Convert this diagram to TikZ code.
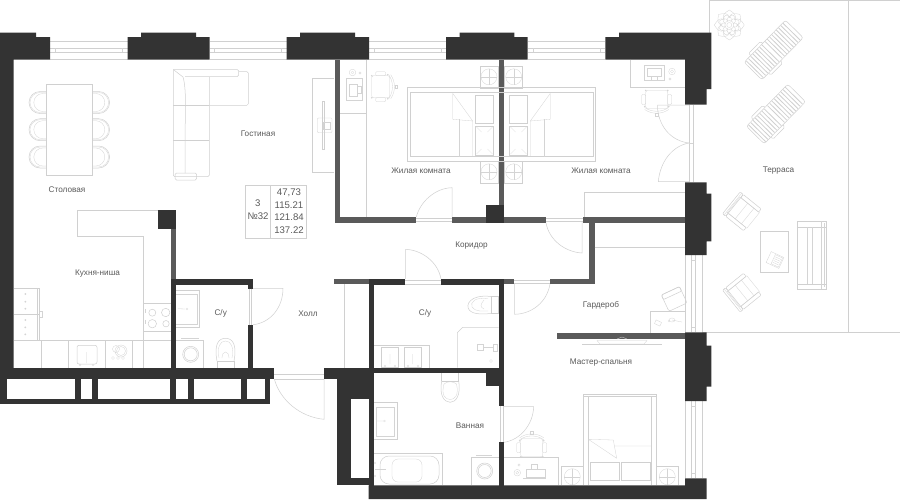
\documentclass[tikz,border=0pt]{standalone}
\usepackage{fontspec}
\setmainfont{Liberation Sans}
\usetikzlibrary{calc}
\definecolor{wd}{HTML}{333333}
\definecolor{wg}{HTML}{5A5A5A}
\definecolor{ln}{HTML}{D0D0D0}
\definecolor{lf}{HTML}{D4D4D4}
\definecolor{tx}{HTML}{5A5A5A}
\tikzset{
 wall/.style={fill=wd,draw=none},
 pwall/.style={fill=wg,draw=none},
 hole/.style={fill=white,draw=none},
 fur/.style={draw=ln,line width=.5pt,fill=none},
 fine/.style={draw=lf,line width=.3pt,fill=none},
 room/.style={font=\fontsize{8.2}{9}\selectfont,text=tx,inner sep=0pt},
 info/.style={font=\fontsize{9.6}{10}\selectfont,text=tx,inner sep=0pt},
 nstand/.pic={\draw[fur] (-9,-11) rectangle (9,11);\draw[fine] (0,0) circle (8);\draw[fine] (-8,0)--(8,0) (0,-8)--(0,8);},
 dchair/.pic={\draw[fine,rounded corners=2pt] (-10,-11) rectangle (8,11);
  \draw[fine,rounded corners=1pt] (-6,-15) rectangle (4,-11) (-6,11) rectangle (4,15);
  \draw[fine] (7,-12) .. controls (12,-5) and (12,5) .. (7,12);
  \draw[fine] (9,-12) .. controls (14,-5) and (14,5) .. (9,12);
  \draw[fine] (13,-1.3) rectangle (15.5,1.3);
  \fill[lf] (-10,-11) circle (.9) (-10,11) circle (.9) (6,-12) circle (.9) (6,12) circle (.9);},
 lounger/.pic={
  \foreach \s in {-27,-23.8,...,-4}{\draw[draw=ln,line width=.8pt] (\s,-12)--(\s,12);}
  \foreach \s in {0,3.2,...,27}{\draw[draw=ln,line width=.8pt] (\s,-12)--(\s,12);}
  \draw[fur,rounded corners=2.5pt] (-29.5,-12.5) rectangle (29.5,12.5);
  \draw[fur,rounded corners=1.5pt] (-20,12.5) -- (-20,15.5) -- (-3,15.5) -- (-3,12.5) (-20,-12.5) -- (-20,-15.5) -- (-3,-15.5) -- (-3,-12.5);},
 achair/.pic={\draw[fine] (-12,-10) rectangle (13,10);
  \draw[fur,rounded corners=1pt] (-15,-14) rectangle (-11,14);
  \draw[fur,rounded corners=1pt] (-11,-14) rectangle (12,-10) (-11,10) rectangle (12,14);
  \draw[fine] (-2,-10)--(-2,10) (6,-10)--(6,10) (-13,-14)--(-13,14);},
 dinechair/.pic={\draw[fur] (0,-11) -- (-6.3,-11) arc (270:90:11) -- (0,11);
  \draw[fine] (0,-10) -- (-6.3,-10) arc (270:90:10) -- (0,10);
  \draw[fine] (0,-9) -- (-3.5,-9) arc (270:90:9) -- (0,9);},
}
\newcommand{\winH}[2]{\draw[fur] (#1,41.3)--(#2,41.3) (#1,48.3)--(#2,48.3) (#1,52.3)--(#2,52.3) (#1,59.3)--(#2,59.3);
 \draw[fine] ($(#1,48.3)+(5,0)$)--++(0,4) ($(#2,48.3)+(-5,0)$)--++(0,4);}
\newcommand{\winV}[2]{\draw[fur] (691.7,#1)--(691.7,#2) (695.7,#1)--(695.7,#2) (702.3,#1)--(702.3,#2) (685.3,#1)--(685.3,#2);
 \draw[fine] (691.7,#1+5)--++(4,0) (691.7,#2-5)--++(4,0);}
\newcommand{\pillow}[4]{\draw[fur] (#1,#2) .. controls ($(#1,#2)!.5!(#3,#2)+(0,.9)$) .. (#3,#2) .. controls ($(#3,#2)!.5!(#3,#4)+(-.9,0)$) .. (#3,#4) .. controls ($(#1,#4)!.5!(#3,#4)+(0,-.9)$) .. (#1,#4) .. controls ($(#1,#2)!.5!(#1,#4)+(.9,0)$) .. (#1,#2);}
\newcommand{\bedtwin}[1]{\begin{scope}[shift={(501.5,0)},xscale=#1]
 \draw[fur] (94.2,87.7)--(-2.8,87.7) (-2.8,161)--(94.2,161)--(94.2,87.7);
 \draw[fur] (91.5,92.3)--(-2.8,92.3) (-2.8,156.7)--(91.5,156.7)--(91.5,92.3);
 \draw[fine] (42.2,119.3)--(42.2,156.7);
 \draw[fine] (48.8,93.3)--(48.8,119.3)--(28.8,121)--(28.8,156.7) (48.8,93.3)--(28.8,121);
 \pillow{26.2}{95}{8.2}{123.3}
 \pillow{26.2}{126}{8.2}{155}
 \draw[fine] (25,127)--(20,132) (9,127)--(14,132) (25,154)--(20,149) (9,154)--(14,149);
 \end{scope}}
\begin{document}
\begin{tikzpicture}[x=1pt,y=-1pt]
\useasboundingbox (0,0) rectangle (900,499);
\fill[white] (0,0) rectangle (900,499);
% terrace
\draw[fur] (709.3,0)--(900,0) (709.3,0)--(709.3,32.5) (702.3,332.3)--(900,332.3) (848.3,0)--(848.3,332.3);
% windows
\winH{50}{127.5}\winH{209.5}{286.5}\winH{369}{446}\winH{527.7}{605.3}
\winV{255}{332.3}\winV{401}{478.3}
% partition walls gray
\fill[pwall] (334.7,59.5) rectangle (340.3,222.7);
\fill[pwall] (334.7,217) rectangle (416,222.7);
\fill[pwall] (452.3,217) rectangle (546,222.7);
\fill[pwall] (582.7,217) rectangle (685,222.7);
\fill[pwall] (498.7,59.5) rectangle (504.3,205);
\fill[pwall] (588.7,222) rectangle (594.7,284.3);
\fill[pwall] (550,279.3) rectangle (594.7,284.3);
\fill[pwall] (504.3,279.3) rectangle (514.3,284.3);
\fill[pwall] (334.3,279.3) rectangle (369,284.3);
\fill[pwall] (171,228.7) rectangle (176.3,279.3);
\fill[pwall] (557,332.7) rectangle (685,338.7);
% main dark walls
\fill[wall] (0,32.5)--(36,32.5)--(36,37)--(50,37)--(50,59.5)--(13.5,59.5)--(13.5,368)--(0,368)--cycle;
\fill[wall] (127.5,37)--(141,37)--(141,32.5)--(196,32.5)--(196,37)--(209.5,37)--(209.5,59.5)--(127.5,59.5)--cycle;
\fill[wall] (286.5,37)--(300,37)--(300,32.5)--(355,32.5)--(355,37)--(369,37)--(369,59.5)--(286.5,59.5)--cycle;
\fill[wall] (446,37)--(459.7,37)--(459.7,32.5)--(514.3,32.5)--(514.3,37)--(527.7,37)--(527.7,59.5)--(446,59.5)--cycle;
\fill[wall] (605.3,37)--(619,37)--(619,32.5)--(711.3,32.5)--(711.3,89)--(706.7,89)--(706.7,104.7)--(685,104.7)--(685,59.5)--(605.3,59.5)--cycle;
\fill[wall] (685,182.3)--(706.7,182.3)--(706.7,193.7)--(711.3,193.7)--(711.3,241.3)--(706.7,241.3)--(706.7,255)--(685,255)--cycle;
\fill[wall] (685,332.3)--(706.7,332.3)--(706.7,345.7)--(711.3,345.7)--(711.3,386.7)--(706.7,386.7)--(706.7,401)--(685,401)--cycle;
\fill[wall] (486,205) rectangle (504.3,223.3);
\fill[wall] (158,210.3) rectangle (176.3,228.7);
% bottom-left band
\fill[wall] (0,368) rectangle (274,379.3);
\fill[wall] (0,379) rectangle (270,404.3);
\fill[hole] (7,379.3) rectangle (75,398.7);
\fill[hole] (80.7,379.3) rectangle (92.3,398.7);
\fill[hole] (97.7,379.3) rectangle (170.3,398.7);
\fill[hole] (176,379.3) rectangle (188,398.7);
\fill[hole] (193.7,379.3) rectangle (241,398.7);
\fill[hole] (246.7,379.3) rectangle (265,398.7);
% WC 1
\fill[wall] (171,279.3) rectangle (176.3,368);
\fill[wall] (171,279.3) rectangle (253,285);
\fill[wall] (247.7,279.3) rectangle (253,288.5);
\fill[wall] (247.7,324.7) rectangle (253,368);
% WC 2 + bath
\fill[wall] (324.3,367.7) rectangle (504.3,373.3);
\fill[wall] (324.3,373) rectangle (374.3,379);
\fill[wall] (369,279.3) rectangle (405,285);
\fill[wall] (440.7,279.3) rectangle (504.3,285);
\fill[wall] (369,279.3) rectangle (374.3,373);
\fill[wall] (498.7,279.3) rectangle (504.3,406);
\fill[wall] (498.7,442.3) rectangle (504.3,486);
\fill[wall] (486,373) rectangle (504.3,385.7);
\fill[wall] (336.7,379) rectangle (374.3,485.3);
\fill[hole] (350.7,399) rectangle (368.7,478.3);
\fill[wall] (368.7,485.3)--(685,485.3)--(685,478.3)--(706.7,478.3)--(706.7,499)--(368.7,499)--cycle;
\fill[wall] (368.7,478.3) rectangle (374.3,486);
% ---- doors
\draw[fur] (249.5,288.5)--(249.5,324.7) (251.5,288.5)--(251.5,324.7);
\draw[fur] (253,288.3)--(283,288.3) .. controls (283,308) and (270,323) .. (253,324.7);
\draw[fur] (274.3,374)--(324.3,374) (274.3,379)--(324.3,379);
\draw[fur] (324,379)--(324,419.3) .. controls (300,417) and (280,400) .. (274.3,379);
\draw[fur] (416,218)--(452,218) (416,221.7)--(452,221.7);
\draw[fur] (452,217)--(452,187.7) .. controls (435,188) and (420,202) .. (416.3,217);
\draw[fur] (546,218)--(582.7,218) (546,221.7)--(582.7,221.7);
\draw[fur] (582,222)--(582,253) .. controls (565,252) and (549,240) .. (546,222.7);
\draw[fur] (405,280.5)--(441,280.5) (405,284)--(441,284);
\draw[fur] (405.5,279)--(405.5,249.3) .. controls (422,250) and (438,262) .. (441,279);
\draw[fur] (514.3,280.5)--(550,280.5) (514.3,283.5)--(550,283.5);
\draw[fur] (514.5,284)--(514.5,314.3) .. controls (532,314) and (547,302) .. (550,284);
\draw[fur] (500,406)--(500,442.3) (503,406)--(503,442.3);
\draw[fur] (504,406.7)--(533.7,406.7) .. controls (533,425) and (520,440) .. (504,442.3);
\draw[fur] (689.3,105)--(689.3,182) (693.3,105)--(693.3,182);
\draw[fur] (689,105)--(657.7,105)--(657.7,110) .. controls (660,128) and (672,141) .. (689,143);
\draw[fur] (689,181.7)--(658.3,181.7) .. controls (660,162) and (672,146) .. (689,143);
\draw[fine] (689,143) -- (693.3,143);
% ---- living room
\draw[fur] (46.3,84) rectangle (92.3,175.7);
\foreach \yy in {102.5,129.7,157}{
 \pic at (46.3,\yy) {dinechair};
 \pic[xscale=-1] at (92.3,\yy) {dinechair};
}
\draw[fur,rounded corners=1.5pt] (173.3,69.5)--(238.7,69.5)--(238.7,76.5)--(185,76.5) (209.3,76.5)--(209.3,105) (238.7,71.5)--(248.3,71.5)--(248.3,105.3)--(209.3,105.3);
\draw[fur,rounded corners=1.5pt] (173.3,69.5)--(173.3,176.7)--(209.3,176.7)--(209.3,105);
\draw[fur] (173.3,105)--(209.3,105) (173.3,140)--(209.3,140);
\draw[fur] (173.3,69.5)--(183,77) .. controls (187,90) and (185,120) .. (185,140) .. controls (185,150) and (185,165) .. (185,173);
\draw[fur,rounded corners=1.5pt] (175,173) -- (196.7,173) -- (196.7,180) -- (175,180) -- cycle;
\draw[fur] (312.3,78.3)--(334.3,78.3) (312.3,78.3)--(312.3,172.3)--(334.3,172.3);
\draw[fur] (322.3,101) rectangle (324,149.7);
\draw[fine,rounded corners=1pt] (317.3,118) rectangle (332,132.7);
\draw[fine] (323,122) rectangle (330,128.7);
% info
\draw[fur] (245.3,185.3) rectangle (306.3,238) (270.3,185.3)--(270.3,238);
\node[info] (rooms) at (257.7,203.5) {3};
\node[info] (flat) at (258,216) {№32};
\node[info] (a1) at (289,193) {47,73};
\node[info] (a2) at (289,205.3) {115.21};
\node[info] (a3) at (289,217.5) {121.84};
\node[info] (a4) at (289,230) {137.22};
% kitchen
\draw[fur] (158,210.3)--(77.3,210.3)--(77.3,236.7)--(143.5,236.7)--(143.5,340);
\draw[fur] (13.5,340)--(171,340);
\foreach \xx in {41,68.3,105.3,132.3,143.5}{\draw[fur] (\xx,340)--(\xx,368);}
\draw[fur] (13.5,288.3)--(39.7,288.3)--(39.7,340) (37.5,288.3)--(37.5,340) (13.5,314.3)--(39.7,314.3);
\draw[fine] (40,311)--(42,311)--(42,317)--(40,317);
\foreach \yy in {294,301.7,308.7,320,327.3,334.3}{\fill[lf] (25.3,\yy) circle (1);}
\draw[fur] (143.5,303.7)--(171,303.7) (143.5,331)--(171,331);
\draw[fur] (152.3,312.7) circle (3.5) (165.7,312.5) circle (4.2) (152.3,323.7) circle (4.2) (166,323.7) circle (3.2);
\draw[fine] (145,309)--(145,313) (145,320)--(145,324);
\draw[fur,rounded corners=2pt] (77,345.3) rectangle (97,364);
\draw[fine] (86.7,352)--(86.7,363) (80,365) circle (1) (93,365) circle (1);
\draw[fine] (116,349) circle (3.5) (121,351) circle (6) (121,351) circle (4.5);
\draw[fine] (113,358) circle (1.5) (118,358) circle (1.5) (123,358) circle (1.5);
% wc1
\draw[fur] (176,290.3)--(199.3,290.3)--(199.3,327.7)--(176,327.7);
\draw[fine] (176,294.3)--(196.7,294.3)--(196.7,323.7)--(176,323.7);
\draw[fine] (178,308.7)--(185,309) (187,309) circle (1);
\draw[fur] (176,340)--(203.7,340)--(203.7,368);
\draw[fur] (190.7,354.3) circle (8) (190.7,354.3) circle (6.5);
\draw[fine] (181,338.5)--(199,338.5);
\draw[fur] (217,361)--(217,368) (234,361)--(234,368) (217,361)--(234,361);
\draw[fur] (217,361) .. controls (214,345) and (218,338.3) .. (225.5,338.3) .. controls (233,338.3) and (237,345) .. (234,361);
\draw[fine] (219,358) .. controls (217,347) and (220,341) .. (225.5,341) .. controls (231,341) and (234,347) .. (232,358);
\draw[fine] (222,358) .. controls (222,350) and (229,350) .. (229,358);
% hall
\draw[fur] (344,284.3)--(344,368);
% bedroom 1
\draw[fur] (366.7,59.5)--(366.7,217) (340.3,113.3)--(366.7,113.3);
\draw[fine] (346.3,78.3) rectangle (362,99.7);
\draw[fine] (349,84) rectangle (357,96) (357,86) rectangle (361,93);
\draw[fine] (352.5,72.5) circle (3.3) (352.5,72.5) circle (1.5) (360,73) circle (1.2);
\pic at (381.7,86.7) {dchair};
\bedtwin{-1}\bedtwin{1}
\pic at (489,76.8) {nstand};
\pic at (489,171.8) {nstand};
\pic at (513.7,76.8) {nstand};
\pic at (513.7,171.8) {nstand};
% bedroom 2
\draw[fur] (630.7,59.5)--(630.7,87)--(685,87);
\draw[fine] (644.3,65) rectangle (664,80) (647,68) rectangle (661,76) (651,76) rectangle (657,80);
\draw[fine] (672,71.5) circle (3.3) (672,71.5) circle (1.5) (670,79) circle (1.2);
\pic[rotate=-90] at (656.7,100.5) {dchair};
\draw[fur] (584.3,217)--(584.3,192)--(685,192);
\draw[fur] (594.7,247.7)--(685,247.7);
% wardrobe
\draw[fur] (650.7,332.7)--(650.7,311)--(685,311);
\draw[fine,rotate around={-25:(658,323)}] (655,321) rectangle (661,325);
\draw[fine] (672,320) ellipse (3 and 2) (672,320)--(682,322);
\draw[fine] (669,321) circle (1);
\draw[fur,rounded corners=2pt,rotate around={25:(674,298.5)}] (664,290) rectangle (684,308);
\draw[fur,rounded corners=1pt,rotate around={25:(674,298.5)}] (664,290) rectangle (684,295);
% WC 2
\draw[fur] (491,296) rectangle (498.7,313.7);
\draw[fur] (491,296.5) .. controls (470,294) and (465,305) .. (469.3,310) .. controls (473,315) and (485,314) .. (491,313.5);
\draw[fine] (488,298.5) .. controls (475,297) and (470,302) .. (472,307) .. controls (475,312) and (483,311) .. (488,311);
\draw[fine] (484,300) .. controls (480,305) and (480,307) .. (484,309);
\draw[fur] (457.3,367.7)--(457.3,332.7)--(462.7,327.3)--(498.7,327.3);
\draw[fine] (477.3,344.3) rectangle (483,350.3) (483,347)--(493,347) (493,344) rectangle (497,351);
\draw[fine] (491,361) circle (1.5);
\draw[fur] (374.3,345.3)--(429,345.3)--(429,367.7);
\draw[fur] (381.3,347) rectangle (398.7,367) (404,347) rectangle (421.7,367);
\draw[fine] (390,354)--(390,364) (412.7,354)--(412.7,364) (385,366) circle (1) (395,366) circle (1) (408,366) circle (1) (418,366) circle (1);
% bath
\draw[fur] (441.7,373.3)--(441.7,381) (458.7,373.3)--(458.7,381) (441.7,381)--(458.7,381);
\draw[fur] (441.7,381) .. controls (439,395) and (444,402.3) .. (450.2,402.3) .. controls (456,402.3) and (461,395) .. (458.7,381);
\draw[fine] (444,384) .. controls (441,395) and (445,399.5) .. (450.2,399.5) .. controls (455,399.5) and (459,395) .. (456.5,384) .. controls (453,381) and (447,381) .. (444,384);
\draw[fur] (374.3,402.7)--(397,402.7)--(397,439.3)--(374.3,439.3);
\draw[fine] (376,406.7) rectangle (394,436);
\draw[fine] (376,421)--(383,421) (384.5,421) circle (1);
\draw[fur] (374.3,453.3)--(442.7,453.3)--(442.7,485);
\draw[fur,rounded corners=9pt] (380,456)--(439,456)--(439,484)--(380,484)--cycle;
\draw[fine,rounded corners=6pt] (392,459) rectangle (422,482);
\draw[fine] (375,469)--(386,469);
\draw[fine] (375,463) circle (1) (375,476) circle (1);
\draw[fur] (471.3,485)--(471.3,457)--(498.7,457);
\draw[fur] (484.7,471) circle (8) (484.7,471) circle (6.5);
\draw[fine] (476,455.5)--(492,455.5);
% master
\draw[fur] (582,344)--(662,344);
\draw[fine] (597,340.5)--(647,340.5)--(644,344)--(600,344)--cycle (617,339) -- (622,337) -- (627,339);
\draw[fur] (583.3,485)--(583.3,394)--(656.7,394)--(656.7,485) (583.3,396.7)--(656.7,396.7);
\draw[fur] (588.3,485)--(588.3,396.7) (651.7,485)--(651.7,396.7);
\draw[fine] (588.3,439.3)--(616.7,458.3) (588.3,439.3)--(613.3,440)--(616.7,458.3) (614,446)--(651.7,446);
\pillow{590}{462}{619}{480}
\pillow{621}{462}{650.7}{480}
\draw[fur] (561,485)--(561,466.7)--(583.3,466.7);
\draw[fur] (656.7,466.7)--(678.3,466.7)--(678.3,485);
\draw[fine] (572.3,476.7) circle (8) (667.3,476.7) circle (8);
\draw[fine] (564.3,476.7)--(580.3,476.7) (572.3,468.7)--(572.3,484.7) (659.3,476.7)--(675.3,476.7) (667.3,468.7)--(667.3,484.7);
\draw[fur] (504.3,457.3)--(558.3,457.3)--(558.3,485);
\draw[fine] (526,469) rectangle (545,477.3) (531,464) rectangle (537,469) (523.3,478.3)--(545.7,478.3);
\draw[fine] (517.3,472.7) circle (3.3) (517.3,472.7) circle (1.5) (519,465) circle (1.2);
\pic[rotate=90] at (531.7,446.7) {dchair};
% terrace furniture
\pic[rotate=45.5] at (773.7,50) {lounger};
\pic[rotate=45.5] at (776,114) {lounger};
\pic[rotate=-39] at (743,212.3) {achair};
\pic[rotate=39] at (743,291.7) {achair};
\draw[fur] (760.3,231.3) rectangle (788.7,272.7);
\begin{scope}[shift={(775,260)},rotate=-25]
 \draw[fine] (-7,-6) rectangle (7,6);
 \draw[fine] (-2,-5) rectangle (6,5);
 \foreach \s in {-3,-1,1,3}{\draw[fine] (-1,\s)--(5,\s);}
\end{scope}
\draw[fur] (797.3,221.3) rectangle (826.7,289.3);
\draw[fur] (797.3,227.3)--(826.7,227.3) (797.3,284)--(826.7,284);
\draw[fine] (807.3,227.3)--(807.3,284) (812.3,227.3)--(812.3,284) (821.3,221.3)--(821.3,289.3) (824,223)--(824,287);
\begin{scope}[shift={(729.3,25)}]
 \foreach \a in {0,45,...,315}{
  \draw[fine,rotate=\a] (5,-5) .. controls (9,-8) and (12,-5) .. (15,0) .. controls (12,5) and (9,8) .. (5,5);
  \draw[fine,rotate=\a+22] (3,-3) .. controls (6,-6) and (9,-3) .. (10.5,0) .. controls (9,3) and (6,6) .. (3,3);
 }
 \draw[fine] (0,0) circle (2.5) (0,0) circle (4.5);
\end{scope}
% labels
\node[room] (l1) at (67,189.6) {Столовая};
\node[room] (l2) at (258,133.8) {Гостиная};
\node[room] (l3) at (97.5,273.6) {Кухня-ниша};
\node[room] (l4) at (220.7,313.8) {С/у};
\node[room] (l5) at (308,313.6) {Холл};
\node[room] (l6) at (471.5,245.6) {Коридор};
\node[room] (l7) at (425,313.6) {С/у};
\node[room] (l8) at (601,305.4) {Гардероб};
\node[room] (l9) at (601,362.5) {Мастер-спальня};
\node[room] (l10) at (470,425.5) {Ванная};
\node[room] (l11) at (421,170.6) {Жилая комната};
\node[room] (l12) at (601,170.6) {Жилая комната};
\node[room] (l13) at (778.5,171) {Терраса};
\end{tikzpicture}
\end{document}
